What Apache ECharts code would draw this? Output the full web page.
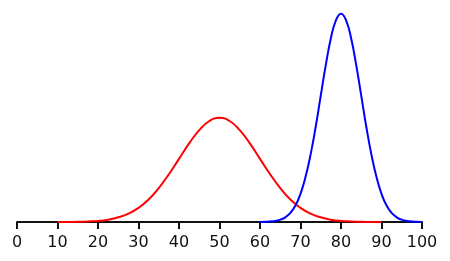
<!DOCTYPE html>
<html>
<head>
<meta charset="utf-8">
<script src="https://cdn.jsdelivr.net/npm/echarts@6/dist/echarts.min.js"></script>
<style>html,body{margin:0;padding:0;background:#fff;}#c{width:450px;height:261px;}</style>
</head>
<body>
<div id="c"></div>
<script>
// Tick labels
const xTicks = ['0','10','20','30','40','50','60','70','80','90','100'];

// Red curve
const redX = [10,12.5,15,17.5,20,22.5,25,27.5,30,32.5,35,37.5,40,42.5,45,47.5,50,52.5,55,57.5,60,62.5,65,67.5,70,72.5,75,77.5,80,82.5,85,87.5,90];
const redY = [0,0,0.0001,0.0002,0.0004,0.0009,0.0018,0.0032,0.0054,0.0086,0.0130,0.0183,0.0242,0.0301,0.0352,0.0387,0.0399,0.0387,0.0352,0.0301,0.0242,0.0183,0.0130,0.0086,0.0054,0.0032,0.0018,0.0009,0.0004,0.0002,0.0001,0,0];

// Blue curve
const blueX = [60,61.25,62.5,63.75,65,66.25,67.5,68.75,70,71.25,72.5,73.75,75,76.25,77.5,78.75,80,81.25,82.5,83.75,85,86.25,87.5,88.75,90,91.25,92.5,93.75,95,96.25,97.5,98.75,100];
const blueY = [0,0.0001,0.0002,0.0004,0.0009,0.0018,0.0035,0.0063,0.0108,0.0173,0.0259,0.0365,0.0484,0.0602,0.0704,0.0773,0.0798,0.0773,0.0704,0.0602,0.0484,0.0365,0.0259,0.0173,0.0108,0.0063,0.0035,0.0018,0.0009,0.0004,0.0002,0.0001,0];

const pairs = (xs, ys) => xs.map((x, i) => [x, ys[i]]);

const chart = echarts.init(document.getElementById('c'), null, {renderer: 'canvas'});
chart.setOption({
  animation: false,
  grid: {left: 17, right: 28, top: 8, bottom: 39},
  xAxis: {
    type: 'value', min: 0, max: 100, interval: 10,
    splitLine: {show: false},
    axisLine: {show: true, onZero: false, lineStyle: {color: '#111', width: 2}},
    axisTick: {show: true, length: 7, lineStyle: {color: '#111', width: 2}},
    axisLabel: {
      margin: 13, color: '#111', fontSize: 16, fontFamily: 'DejaVu Sans',
      formatter: v => xTicks[Math.round(v / 10)]
    }
  },
  yAxis: {type: 'value', min: 0, max: 0.082, show: false, splitLine: {show: false}},
  series: [
    {type: 'line', data: pairs(redX, redY), smooth: true, symbol: 'none', clip: false,
     lineStyle: {color: '#ff0000', width: 2}},
    {type: 'line', data: pairs(blueX, blueY), smooth: true, symbol: 'none', clip: false,
     lineStyle: {color: '#0000ff', width: 2}}
  ]
});
</script>
</body>
</html>
